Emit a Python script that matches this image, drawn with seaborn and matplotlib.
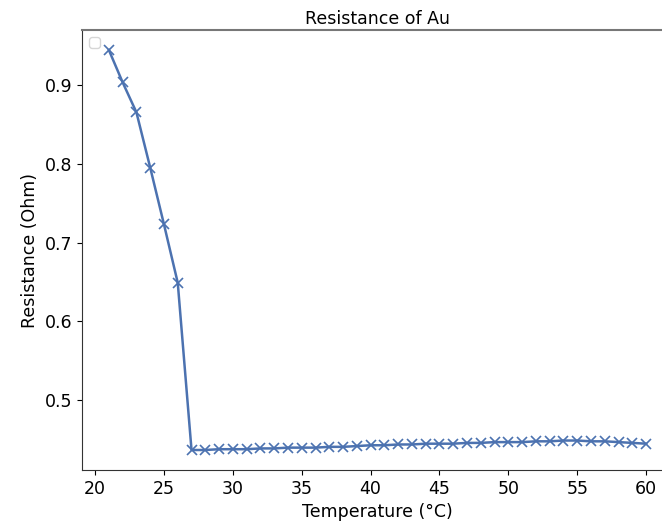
import matplotlib
matplotlib.use("Agg")
import matplotlib.pyplot as plt
import seaborn as sns
import pandas as pd

temperature = list(range(21, 61))
resistance = [0.944, 0.903, 0.865, 0.795, 0.723, 0.649, 0.437, 0.437, 0.438, 0.438,
              0.438, 0.439, 0.439, 0.440, 0.440, 0.440, 0.441, 0.441, 0.442, 0.443,
              0.443, 0.444, 0.444, 0.445, 0.445, 0.445, 0.446, 0.446, 0.447, 0.447,
              0.447, 0.448, 0.448, 0.449, 0.449, 0.448, 0.448, 0.447, 0.446, 0.445]

df = pd.DataFrame({"Temperature": temperature, "Resistance": resistance})

plt.rcParams["font.family"] = ["DejaVu Sans"]
fs = 12.5
color = sns.color_palette("deep")[0]

fig = plt.figure(figsize=(6.62, 5.31), dpi=100)
ax = fig.add_axes([82 / 662, 1 - 470 / 531, (673 - 82) / 662, 440 / 531])
sns.lineplot(data=df, x="Temperature", y="Resistance", ax=ax, color=color,
             marker="x", markersize=6.5, markeredgecolor=color, markeredgewidth=1.2,
             linewidth=1.8)
ax.set_title("Resistance of Au", fontsize=fs, pad=4)
ax.set_xlabel("Temperature (°C)", fontsize=fs)
ax.set_ylabel("Resistance (Ohm)", fontsize=fs)
ax.set_xticks([20, 25, 30, 35, 40, 45, 50, 55, 60])
ax.set_yticks([0.5, 0.6, 0.7, 0.8, 0.9])
ax.tick_params(labelsize=fs)
for s in ax.spines.values():
    s.set_color("#333333")
ax.spines["top"].set_color("#777777")
ax.spines["top"].set_linewidth(1.5)
ax.legend([], [], loc="upper left")
fig.savefig("out.png", dpi=100)
